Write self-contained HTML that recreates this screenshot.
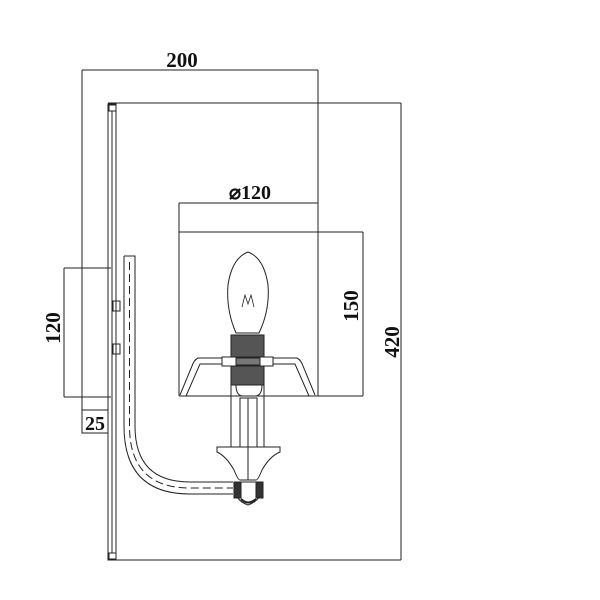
<!DOCTYPE html><html><head><style>body{margin:0;background:#fff}svg{display:block}text{font-family:"Liberation Serif",serif;font-weight:bold;fill:#111}</style></head><body>
<svg width="600" height="600" viewBox="0 0 600 600" xmlns="http://www.w3.org/2000/svg" fill="none" stroke="#222" stroke-width="1">
<line x1="82" y1="70" x2="318" y2="70"/>
<line x1="82" y1="70" x2="82" y2="433"/>
<line x1="318" y1="70" x2="318" y2="396"/>
<text x="182" y="67" font-size="21" text-anchor="middle" stroke="none">200</text>
<line x1="108" y1="103" x2="401" y2="103"/>
<line x1="401" y1="103" x2="401" y2="560"/>
<line x1="108" y1="560" x2="401" y2="560"/>
<text transform="translate(399,342) rotate(-90)" font-size="21" text-anchor="middle" stroke="none">420</text>
<rect x="108" y="104" width="8" height="456"/>
<line x1="112" y1="111" x2="112" y2="553"/>
<rect x="109" y="105" width="7" height="6"/>
<rect x="109" y="553" width="7" height="6"/>
<rect x="113" y="301" width="7" height="10"/>
<rect x="113" y="344" width="7" height="10"/>
<line x1="64" y1="268" x2="111" y2="268"/>
<line x1="64" y1="268" x2="64" y2="397"/>
<line x1="64" y1="397" x2="111" y2="397"/>
<text transform="translate(60,328) rotate(-90)" font-size="21" text-anchor="middle" stroke="none">120</text>
<rect x="82" y="410" width="26" height="23"/>
<text x="95" y="430" font-size="20" text-anchor="middle" stroke="none">25</text>
<line x1="179" y1="203" x2="318" y2="203"/>
<line x1="179" y1="203" x2="179" y2="396"/>
<line x1="179" y1="232" x2="363" y2="232"/>
<line x1="363" y1="232" x2="363" y2="396"/>
<line x1="179" y1="396" x2="363" y2="396"/>
<text x="250" y="199" font-size="20" text-anchor="middle" stroke="none">⌀120</text>
<text transform="translate(358,306) rotate(-90)" font-size="21" text-anchor="middle" stroke="none">150</text>
<path d="M124 256 H135 V426 Q135 482 190 482 H233"/>
<path d="M124 256 V426 Q124 494 190 494 H233"/>
<path d="M129.5 262 V426 Q129.5 488 190 488 H233" stroke-dasharray="8 4"/>
<path d="M236 333 Q226 310 228 285 Q232 258 248 252 Q264 258 268 285 Q270 310 259 333 Z"/>
<path d="M242 307 L245 295 L248 304 L251 295 L254 307" stroke-width="0.8"/>
<rect x="231" y="335" width="33" height="50" fill="#555"/>
<rect x="222" y="357" width="51" height="9" fill="#fff"/>
<rect x="236" y="358" width="24" height="7" fill="#777"/>
<path d="M222 358 L198 358 Q194 360 192 366 L180 395"/>
<path d="M222 364 L200 364 L186 396"/>
<path d="M273 358 L297 358 Q301 360 303 366 L315 395"/>
<path d="M273 364 L295 364 L309 396"/>
<path d="M236 385 Q236 395 242 396 H256 Q262 395 262 385"/>
<line x1="231" y1="385" x2="231" y2="447"/>
<line x1="264" y1="385" x2="264" y2="447"/>
<rect x="240" y="398" width="17" height="49"/>
<line x1="248" y1="398" x2="248" y2="480"/>
<path d="M217 447 H280 V452 Q270 456 262 470 Q258 480 256 480 H240 Q238 480 234 470 Q226 456 217 452 Z"/>
<path d="M234 482 Q233 500 248 505 Q263 500 263 482 Z" fill="#fff"/>
<path d="M234 482 H241 V498 H234 Z" fill="#333"/>
<path d="M256 482 H263 V498 H256 Z" fill="#333"/>
<path d="M241 499 Q248 506 256 499" stroke-width="2"/>
</svg></body></html>
